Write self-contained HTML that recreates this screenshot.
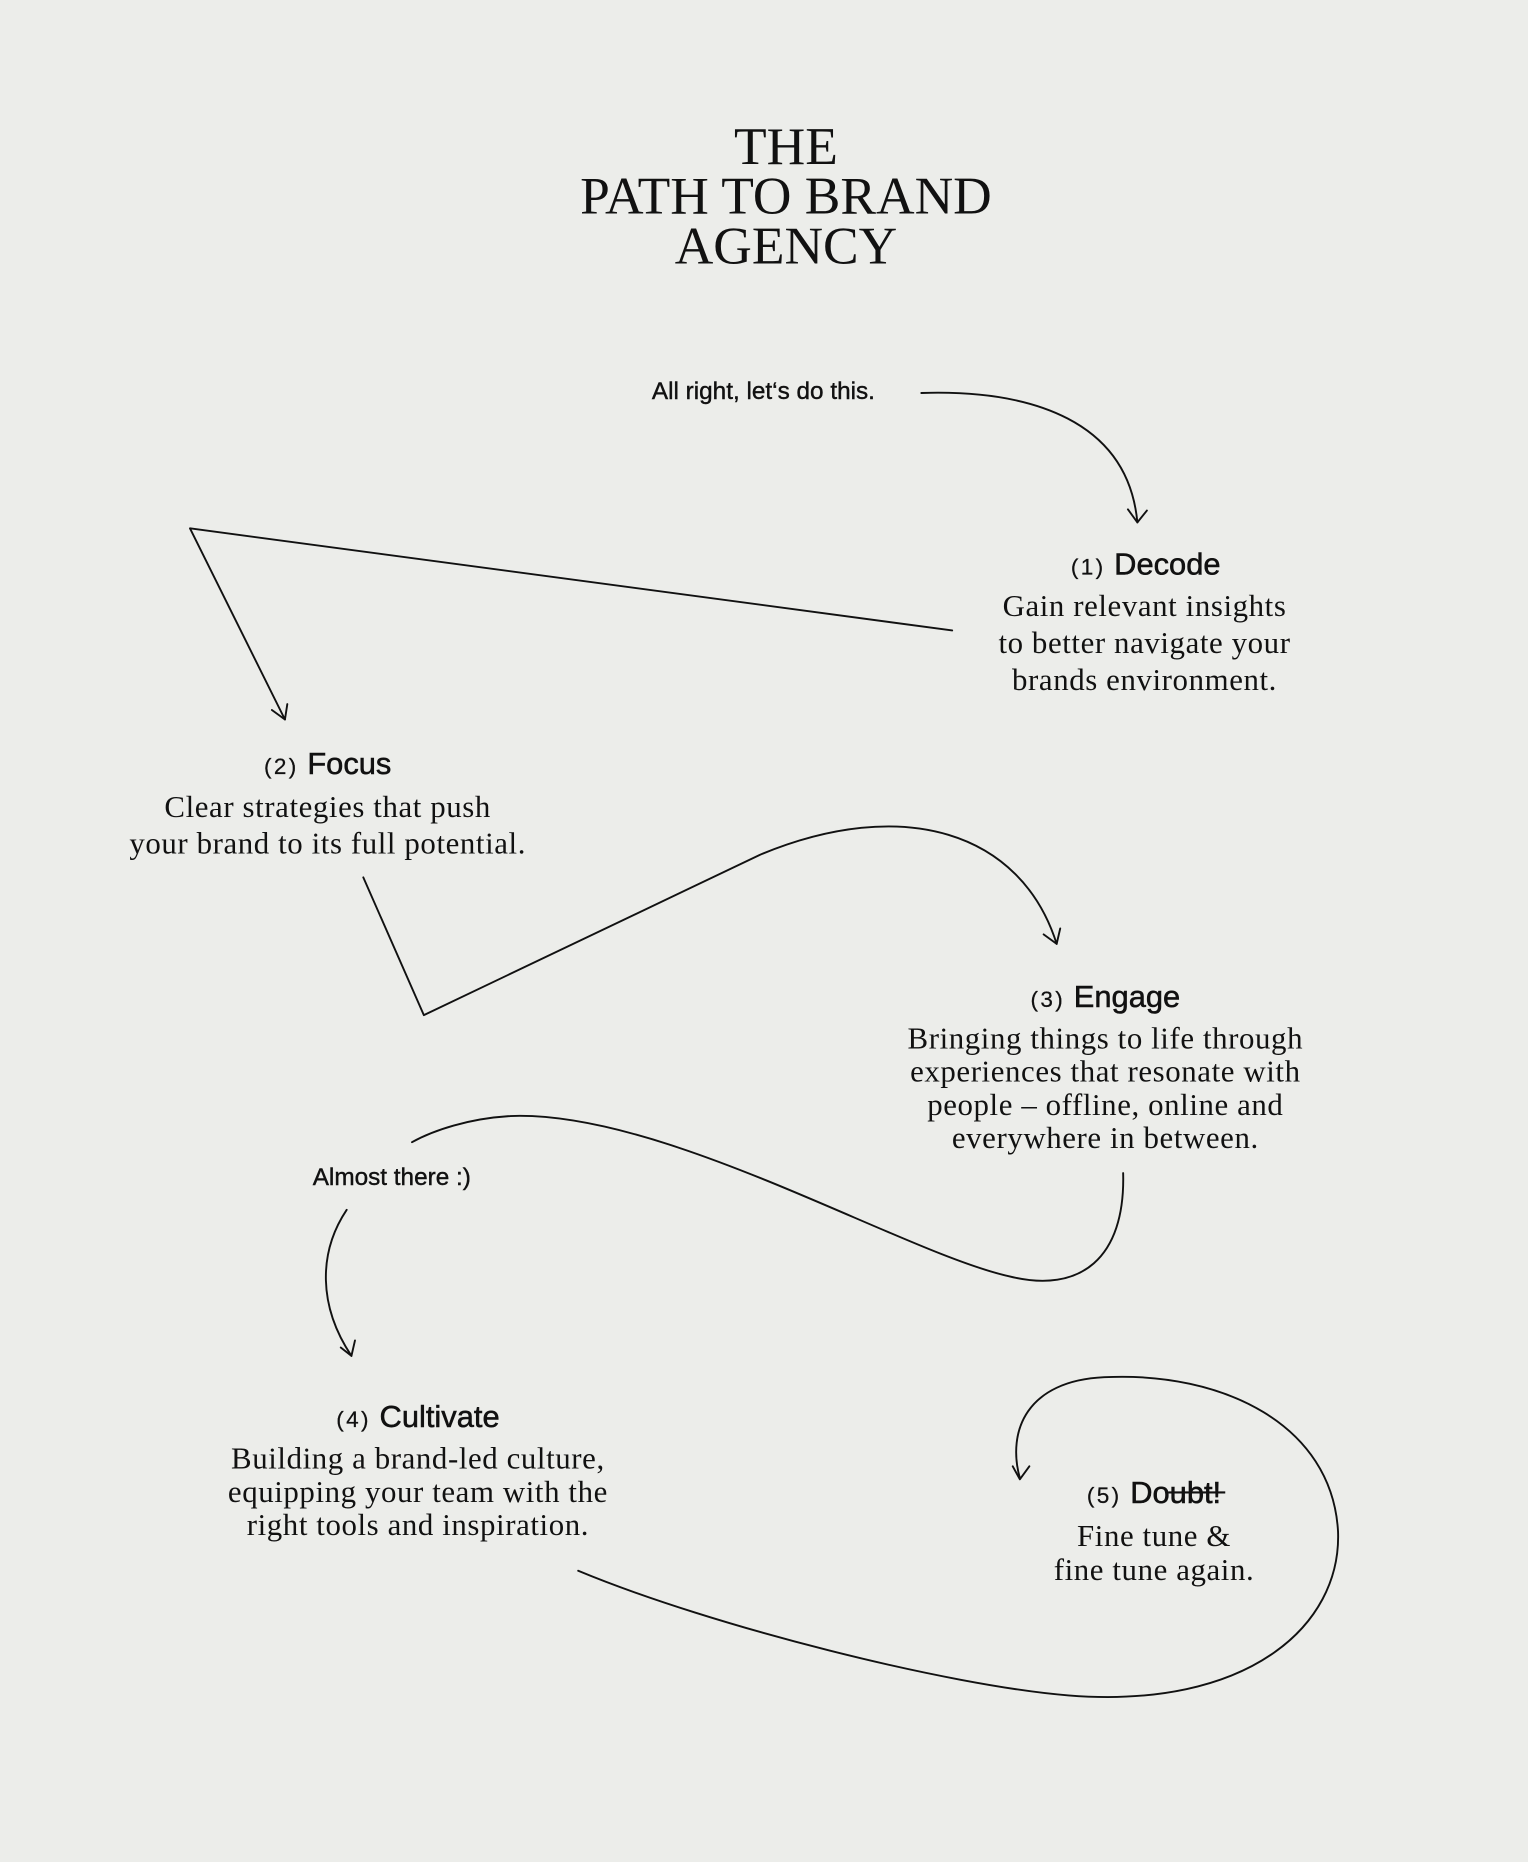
<!DOCTYPE html>
<html><head><meta charset="utf-8"><style>
html,body{margin:0;padding:0;background:#ecedea;}
svg{display:block;}
.t{font-family:"Liberation Serif",serif;font-size:45px;fill:#111;text-anchor:middle;}
.s{font-family:"Liberation Sans",sans-serif;font-size:20.5px;fill:#111;text-anchor:middle;stroke:#111;stroke-width:0.35;}
.h{font-family:"Liberation Sans",sans-serif;font-size:26px;fill:#111;text-anchor:middle;stroke:#111;stroke-width:0.45;}
.n{font-size:19px;letter-spacing:2px;stroke-width:0.2;}
.b{font-family:"Liberation Serif",serif;font-size:26px;letter-spacing:0.5px;fill:#111;text-anchor:middle;}
path{fill:none;stroke:#111;stroke-width:1.6;stroke-linecap:round;stroke-linejoin:round;}
</style></head><body>
<svg width="1528" height="1862" viewBox="0 0 1287 1568.3" xmlns="http://www.w3.org/2000/svg">
<rect width="1287" height="1569" fill="#ecedea"/>
<text class="t" x="662" y="138">THE</text>
<text class="t" x="662" y="180">PATH TO BRAND</text>
<text class="t" x="662" y="222">AGENCY</text>

<text class="s" x="643" y="336">All right, let‘s do this.</text>

<text class="h" x="965" y="484"><tspan class="n">(1) </tspan>Decode</text>
<text class="b" x="964" y="519">Gain relevant insights</text>
<text class="b" x="964" y="550">to better navigate your</text>
<text class="b" x="964" y="581">brands environment.</text>

<text class="h" x="276" y="652"><tspan class="n">(2) </tspan>Focus</text>
<text class="b" x="276" y="688">Clear strategies that push</text>
<text class="b" x="276" y="719">your brand to its full potential.</text>

<text class="h" x="931" y="848"><tspan class="n">(3) </tspan>Engage</text>
<text class="b" x="931" y="883">Bringing things to life through</text>
<text class="b" x="931" y="911">experiences that resonate with</text>
<text class="b" x="931" y="939">people – offline, online and</text>
<text class="b" x="931" y="967">everywhere in between.</text>

<text class="s" x="330" y="998">Almost there :)</text>

<text class="h" x="352" y="1202"><tspan class="n">(4) </tspan>Cultivate</text>
<text class="b" x="352" y="1237">Building a brand-led culture,</text>
<text class="b" x="352" y="1265">equipping your team with the</text>
<text class="b" x="352" y="1293">right tools and inspiration.</text>

<text class="h" x="972" y="1266"><tspan class="n">(5) </tspan>Doubt!</text>
<line x1="984" y1="1257" x2="1032" y2="1257" stroke="#111" stroke-width="1.8"/>
<text class="b" x="972" y="1302">Fine tune &amp;</text>
<text class="b" x="972" y="1331">fine tune again.</text>

<path d="M776,331 C870,328 950,355 958,440"/>
<path d="M950,429 L958,440 L966,430"/>
<path d="M802,531 L160,445 L240,606"/>
<path d="M229,598 L240,606 L242,593"/>
<path d="M306,739 L357,855 L640,720 C760,670 860,700 890,795"/>
<path d="M879,787 L890,795 L893,782"/>
<path d="M946,988 C948,1060 910,1090 850,1075 C760,1055 560,935 430,940 C395,942 365,952 347,962"/>
<path d="M292,1019 C268,1055 268,1100 296,1142"/>
<path d="M287,1135 L296,1142 L299,1129"/>
<path d="M487,1323 C600,1370 800,1420 900,1428 C1050,1440 1130,1370 1127,1290 C1122,1200 1030,1155 930,1160 C865,1163 848,1205 859,1245"/>
<path d="M853,1235 L859,1246 L867,1235"/>
</svg>
</body></html>
